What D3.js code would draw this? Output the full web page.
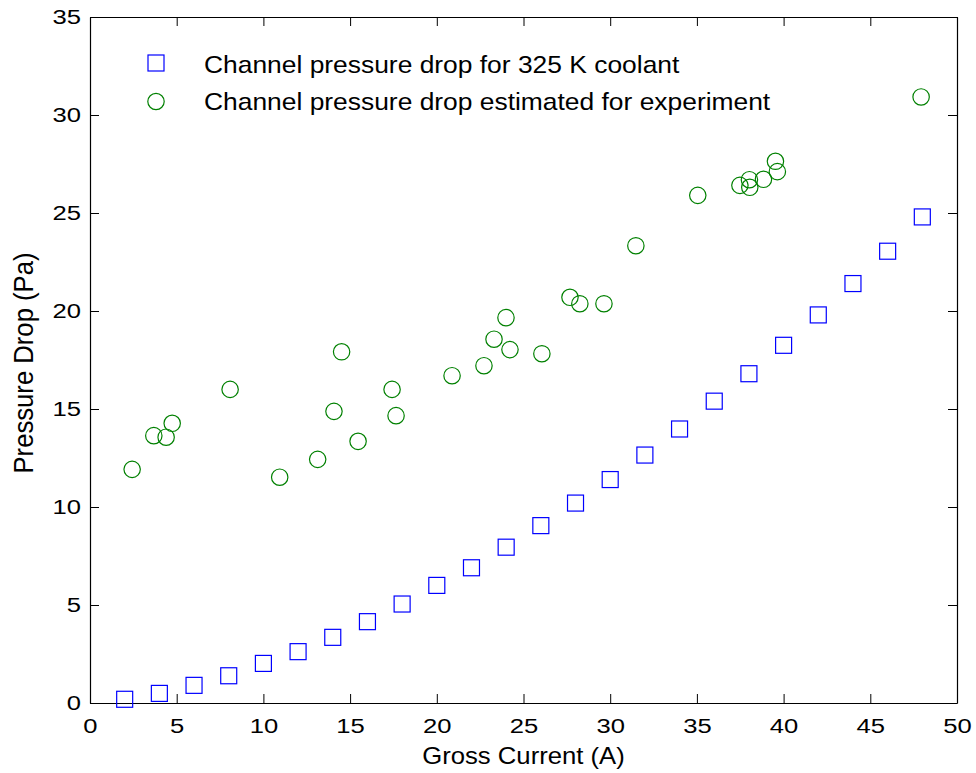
<!DOCTYPE html>
<html>
<head>
<meta charset="utf-8">
<script src="https://cdn.jsdelivr.net/npm/d3@7"></script>
<style>
  body { margin: 0; background: #fff; }
  text { font-family: "Liberation Sans", Arial, sans-serif; fill: #000; }
</style>
</head>
<body>
<div id="chart"></div>
<script>
// Series 1: channel pressure drop for 325 K coolant
const coolantCurrent = [2, 4, 6, 8, 10, 12, 14, 16, 18, 20, 22, 24, 26, 28, 30, 32, 34, 36, 38, 40, 42, 44, 46, 48];
const coolantDrop = [0.19, 0.49, 0.9, 1.39, 2.02, 2.62, 3.35, 4.15, 5.05, 6.0, 6.9, 7.95, 9.05, 10.2, 11.4, 12.65,
  13.98, 15.4, 16.8, 18.25, 19.8, 21.4, 23.05, 24.8];

// Series 2: channel pressure drop estimated for experiment
const expCurrent = [2.43, 3.68, 4.39, 4.74, 8.08, 10.94, 13.13, 14.07, 14.51, 15.46, 17.42, 17.65, 20.88, 22.72,
  23.30, 23.99, 24.22, 26.06, 27.68, 28.25, 29.64, 31.48, 35.05, 37.48, 38.03, 38.05, 38.84, 39.53, 39.64, 47.93];
const expDrop = [11.92, 13.64, 13.56, 14.27, 16.0, 11.52, 12.43, 14.88, 17.92, 13.35, 16.0, 14.66, 16.70, 17.21,
  18.56, 19.66, 18.03, 17.82, 20.70, 20.37, 20.37, 23.33, 25.90, 26.41, 26.70, 26.31, 26.72, 27.64, 27.11, 30.92];

const xTicks = [0, 5, 10, 15, 20, 25, 30, 35, 40, 45, 50];
const yTicks = [0, 5, 10, 15, 20, 25, 30, 35];
const legendLabels = ["Channel pressure drop for 325 K coolant", "Channel pressure drop estimated for experiment"];

const W = 976, H = 773;
const margin = { top: 17, right: 19, bottom: 70, left: 90 };
const width = W - margin.left - margin.right;
const height = H - margin.top - margin.bottom;

const svg = d3.select("#chart").append("svg")
  .attr("width", W)
  .attr("height", H);

const g = svg.append("g")
  .attr("transform", "translate(" + margin.left + "," + margin.top + ")");

const x = d3.scaleLinear().domain([0, 50]).range([0, width]);
const y = d3.scaleLinear().domain([0, 35]).range([height, 0]);

const tickLen = 9;
const tickStretch = 1.22; // the original's text is a bit wide

const styleAxis = sel => {
  sel.select(".domain").attr("stroke", "#000").attr("stroke-width", 1.2);
  sel.selectAll(".tick line").attr("stroke", "#000");
  sel.selectAll(".tick text").attr("fill", "#000").style("font-size", "21px")
    .style("font-family", "'Liberation Sans', Arial, sans-serif")
    .attr("transform", "scale(" + tickStretch + ",1)");
};

// axes with inward ticks on all four sides
g.append("g")
  .attr("transform", "translate(0," + height + ")")
  .call(d3.axisBottom(x).tickValues(xTicks).tickSizeInner(-tickLen).tickSizeOuter(0).tickPadding(15))
  .call(styleAxis);

g.append("g")
  .call(d3.axisTop(x).tickValues(xTicks).tickSizeInner(-tickLen).tickSizeOuter(0).tickFormat(""))
  .call(styleAxis);

g.append("g")
  .call(d3.axisLeft(y).tickValues(yTicks).tickSizeInner(-tickLen).tickSizeOuter(0))
  .call(styleAxis)
  .selectAll(".tick text")
  .attr("x", -9 / tickStretch);

g.append("g")
  .attr("transform", "translate(" + width + ",0)")
  .call(d3.axisRight(y).tickValues(yTicks).tickSizeInner(-tickLen).tickSizeOuter(0).tickFormat(""))
  .call(styleAxis);

// axis labels
g.append("text")
  .attr("transform", "translate(" + (width / 2) + "," + (height + 61) + ") scale(1.07,1)")
  .attr("text-anchor", "middle")
  .style("font-size", "24px")
  .text("Gross Current (A)");

g.append("text")
  .attr("transform", "translate(-57," + (height / 2 + 3) + ") rotate(-90) scale(1.07,1.16)")
  .attr("text-anchor", "middle")
  .style("font-size", "24px")
  .text("Pressure Drop (Pa)");

const sq = 16, rad = 8.2;

// squares
g.selectAll("rect.coolant")
  .data(coolantCurrent)
  .enter().append("rect")
  .attr("class", "coolant")
  .attr("x", (d, i) => x(d) - sq / 2)
  .attr("y", (d, i) => y(coolantDrop[i]) - sq / 2)
  .attr("width", sq)
  .attr("height", sq)
  .attr("fill", "none")
  .attr("stroke", "#0000ff")
  .attr("stroke-width", 1.2);

// circles
g.selectAll("circle.exp")
  .data(expCurrent)
  .enter().append("circle")
  .attr("class", "exp")
  .attr("cx", (d, i) => x(d))
  .attr("cy", (d, i) => y(expDrop[i]))
  .attr("r", rad)
  .attr("fill", "none")
  .attr("stroke", "#008000")
  .attr("stroke-width", 1.2);

// legend
const legend = g.append("g").attr("transform", "translate(66,46)");
legend.append("rect")
  .attr("x", -sq / 2).attr("y", -sq / 2)
  .attr("width", sq).attr("height", sq)
  .attr("fill", "none").attr("stroke", "#0000ff").attr("stroke-width", 1.2);
legend.append("circle")
  .attr("cx", 0).attr("cy", 38.5).attr("r", rad)
  .attr("fill", "none").attr("stroke", "#008000").attr("stroke-width", 1.2);
legend.selectAll("text")
  .data(legendLabels)
  .enter().append("text")
  .attr("transform", (d, i) => "translate(48," + (10 + i * 37) + ") scale(1.1,1)")
  .style("font-size", "24px")
  .text(d => d);
</script>
</body>
</html>
